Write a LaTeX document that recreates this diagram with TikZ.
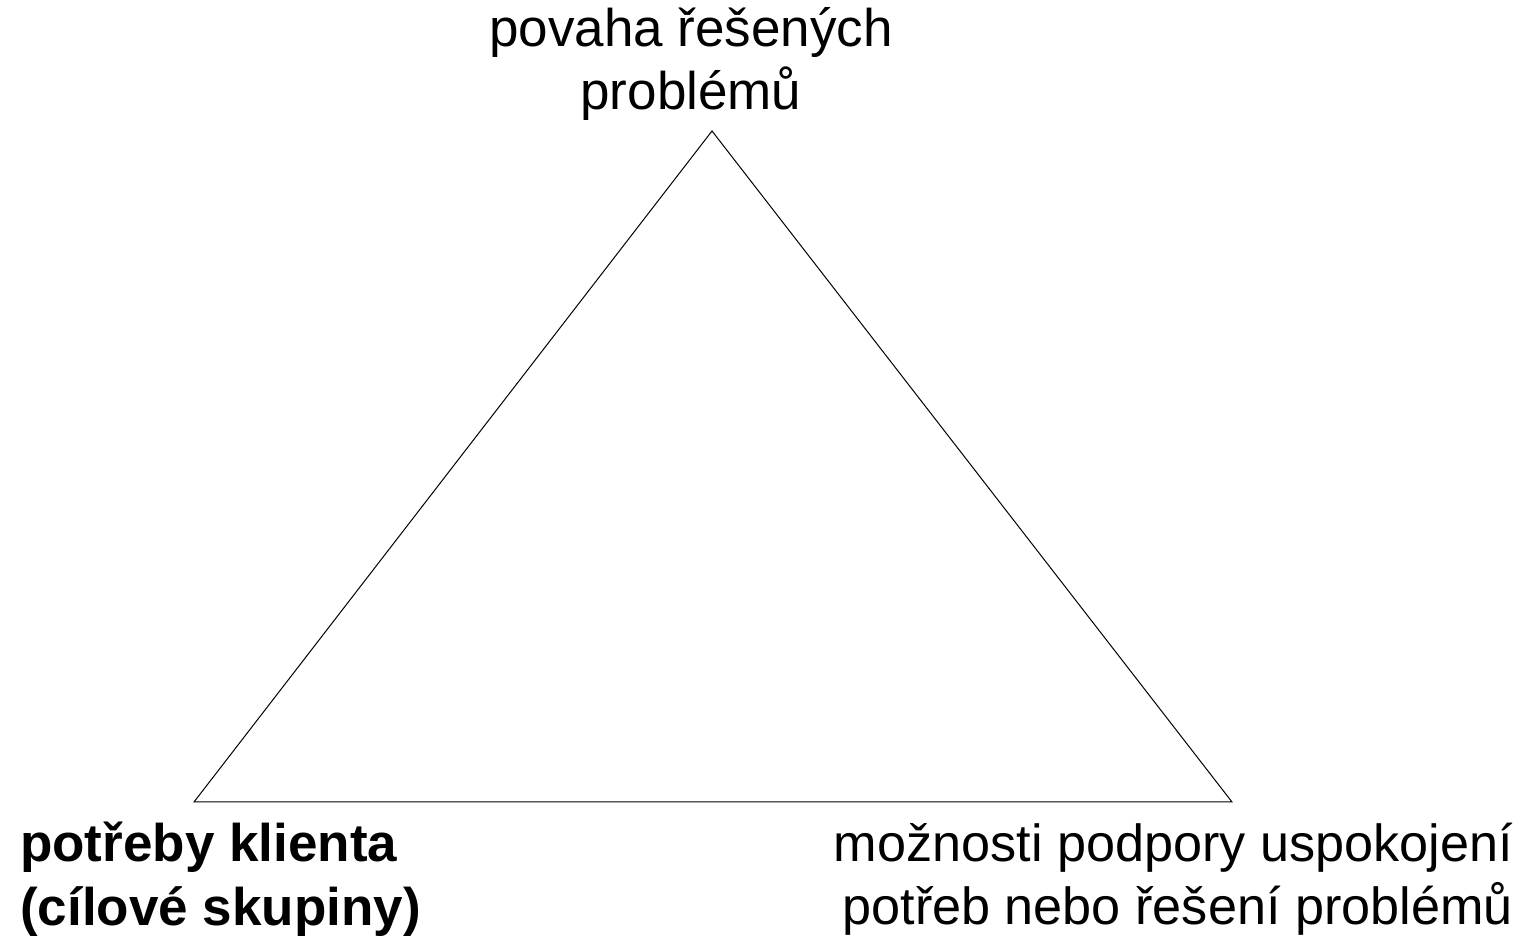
\documentclass[tikz,border=0pt]{standalone}
\usepackage{fontspec}
\setmainfont{Liberation Sans}
\begin{document}
\begin{tikzpicture}[x=1pt,y=1pt,
  label text/.style={inner sep=0pt, font=\fontsize{53}{63.5}\selectfont},
  edge/.style={draw=black, line width=1pt, line join=miter}]
\useasboundingbox (0,0) rectangle (1534,936);
% triangle corners
\coordinate (top) at (712,805);
\coordinate (left) at (194,134);
\coordinate (right) at (1232,134);
\draw[edge] (top) -- (left) -- (right) -- cycle;
% corner captions
\node[label text, align=center] (ttop) at (691,872) {povaha řešených\\problémů};
\node[label text, align=left, anchor=west, font=\fontsize{53}{63.5}\selectfont\bfseries] (tleft) at (20,57) {potřeby klienta\\(cílové skupiny)};
\node[label text, align=right, anchor=east, font=\fontsize{52.2}{63.5}\selectfont] (tright) at (1513,57) {možnosti podpory uspokojení\\potřeb nebo řešení problémů};
\end{tikzpicture}
\end{document}
